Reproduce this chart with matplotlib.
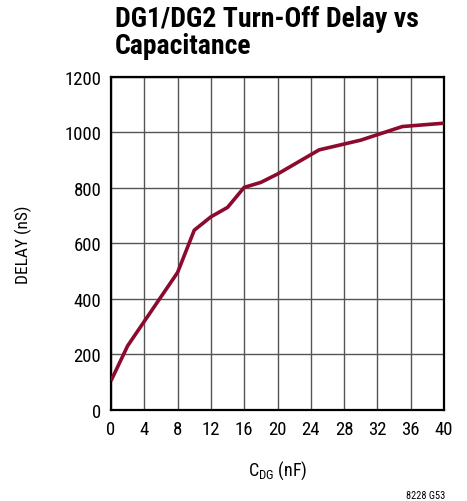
import matplotlib.pyplot as plt
import numpy as np

# turn-off delay vs drain-gate capacitance
cap_nf = [0, 2, 8, 10, 12, 14, 16, 18, 20, 25, 30, 35, 40]
delay_ns = [105, 231, 495, 647, 695, 729, 801, 819, 849, 936, 971, 1020, 1032]

x_ticks = np.arange(0, 41, 4)
y_ticks = np.arange(0, 1201, 200)

narrow = ['Roboto Condensed', 'DejaVu Sans']
plt.rcParams['font.family'] = narrow
plt.rcParams['mathtext.fontset'] = 'custom'
plt.rcParams['mathtext.rm'] = 'Roboto Condensed'

fig = plt.figure(figsize=(4.67, 5.02), dpi=100)
ax = fig.add_axes([111 / 467, 91 / 502, 333 / 467, 333.5 / 502])

ax.plot(cap_nf, delay_ns, color='#8b0a2e', lw=2.6, solid_capstyle='butt', zorder=3)

ax.set_xlim(0, 40)
ax.set_ylim(0, 1200)
ax.set_xticks(x_ticks)
ax.set_yticks(y_ticks)
ax.set_xticklabels([str(v) for v in x_ticks], fontsize=13.5)
ax.set_yticklabels([str(v) for v in y_ticks], fontsize=13.5)
ax.tick_params(length=0, pad=7)
ax.grid(True, color='#555555', lw=1.0)
for s in ax.spines.values():
    s.set_linewidth(1.6)
    s.set_color('black')

ax.set_ylabel('DELAY (nS)', fontsize=12.5, va='center')
ax.yaxis.set_label_coords(-0.264, 0.5)
ax.set_xlabel(r'C$_{\mathregular{DG}}$ (nF)', fontsize=13, va='center')
ax.xaxis.set_label_coords(0.5, -0.18)

fig.text(115 / 467, 1 - 6 / 502, 'DG1/DG2 Turn-Off Delay vs\nCapacitance',
         fontweight='bold', fontsize=20, va='top', ha='left', linespacing=1.0)
fig.text(445 / 467, 1 - 496 / 502, '8228 G53', fontsize=7.5,
         ha='right', va='center')

fig.savefig('out.png', dpi=100)
